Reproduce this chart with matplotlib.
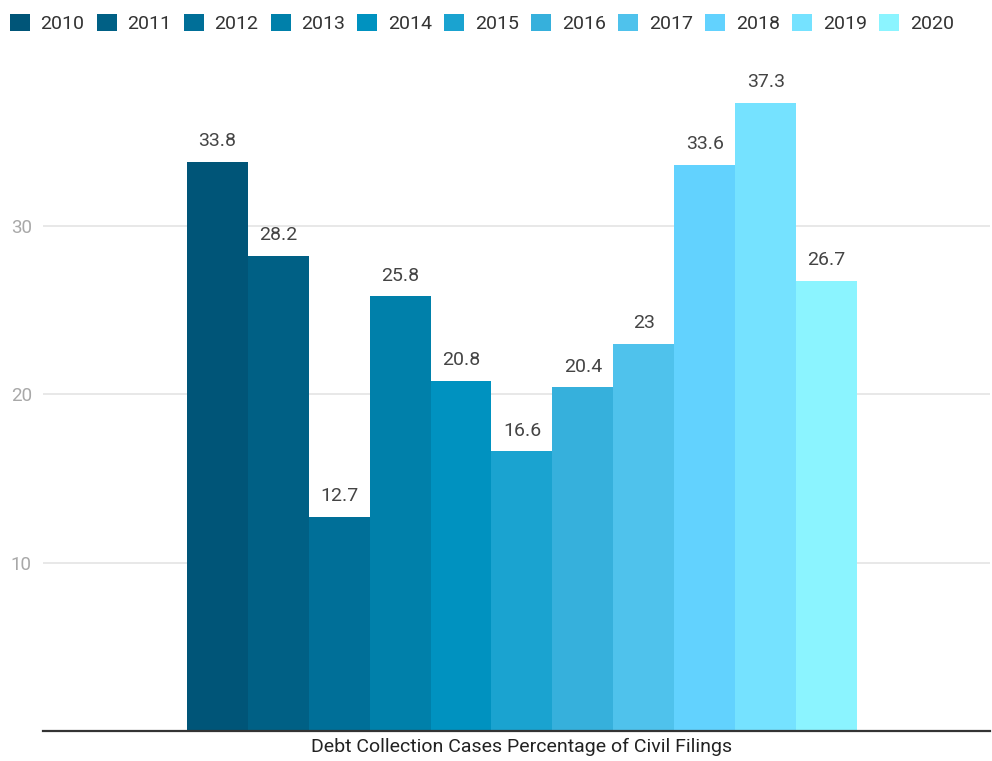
import matplotlib.pyplot as plt
from matplotlib.patches import Patch

plt.rcParams['font.family'] = ['Roboto', 'DejaVu Sans']

# Share of civil filings that were debt collection cases, by year
years = ['2010', '2011', '2012', '2013', '2014', '2015',
         '2016', '2017', '2018', '2019', '2020']
values = [33.8, 28.2, 12.7, 25.8, 20.8, 16.6, 20.4, 23, 33.6, 37.3, 26.7]
colors = ['#005578', '#006085', '#006f98', '#0080aa', '#0092c0', '#1aa3d0',
          '#36b0dc', '#4fc2ec', '#62d2fe', '#75e2ff', '#8bf4ff']
category = 'Debt Collection Cases Percentage of Civil Filings'

fig = plt.figure(figsize=(9.92, 7.61), dpi=100)
ax = fig.add_axes([0.0433, 0.0394, 0.9547, 0.8856])

xs = list(range(len(values)))
bars = ax.bar(xs, values, width=1.0, color=colors, zorder=2)

for x, v in zip(xs, values):
    ax.annotate(f'{v:g}', (x, v), xytext=(0, 8.5), textcoords='offset points',
                ha='center', va='bottom', fontsize=14, color='#444444')

ax.set_xlim(-2.86, 12.68)
ax.set_ylim(0, 40)
ax.set_yticks([10, 20, 30])
ax.yaxis.grid(True, color='#e4e4e4', linewidth=1.2, zorder=0)
ax.tick_params(axis='y', length=0, labelsize=13.5, labelcolor='#a8a8a8', pad=8)
ax.set_xticks([5])
ax.set_xticklabels([category])
ax.tick_params(axis='x', length=0, labelsize=14, labelcolor='#222222', pad=5)

for side in ['top', 'right', 'left']:
    ax.spines[side].set_visible(False)
ax.spines['bottom'].set_color('#333333')
ax.spines['bottom'].set_linewidth(1.6)

handles = [Patch(facecolor=c, edgecolor='none') for c in colors]
fig.legend(handles, years, loc='upper left', bbox_to_anchor=(-0.004, 1.0),
           ncol=len(years), frameon=False, fontsize=14,
           handlelength=1.03, handleheight=1.03, handletextpad=0.55,
           columnspacing=0.63, labelcolor='#333333', borderaxespad=0.5,
           borderpad=0.2)

fig.savefig('out.png', dpi=100)
